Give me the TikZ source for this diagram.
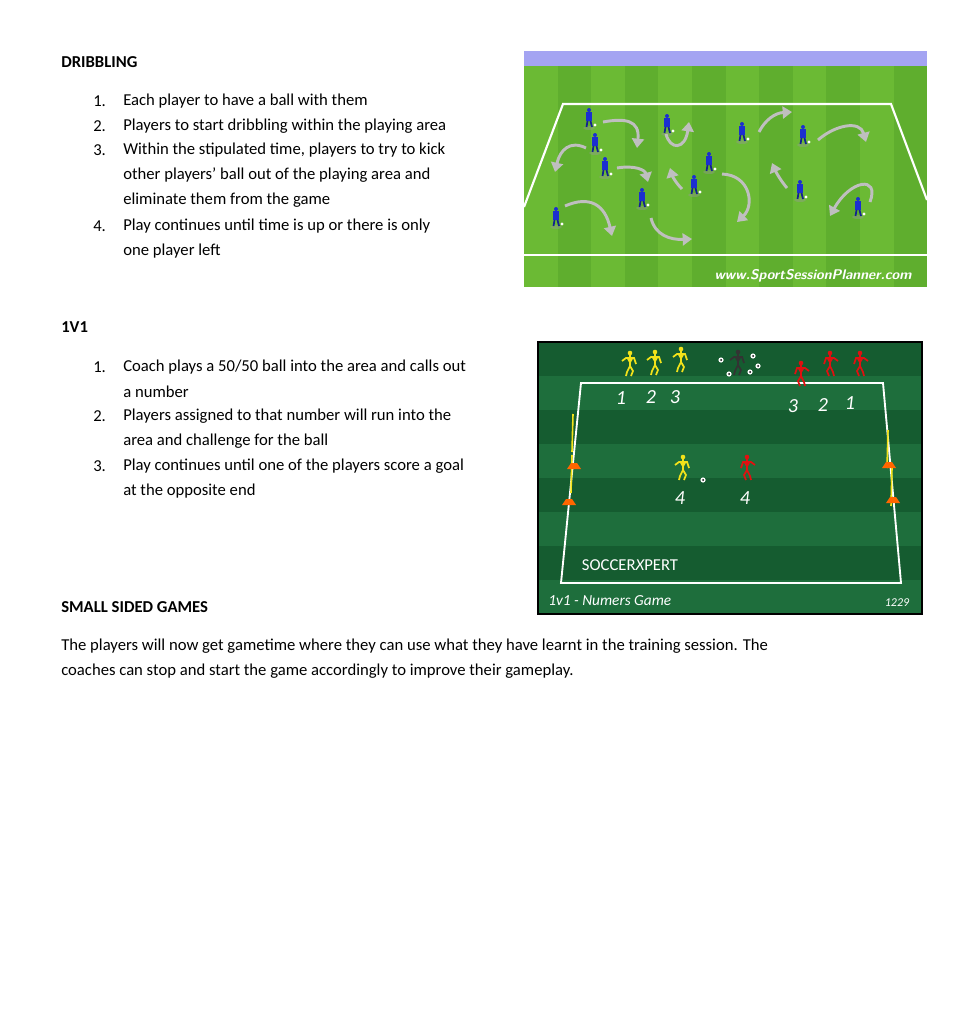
\documentclass[tikz,border=0pt]{standalone}
\usepackage{fontspec}
\setmainfont{Carlito}
\usetikzlibrary{arrows.meta}
\definecolor{gA}{HTML}{5FAE2E}\definecolor{gB}{HTML}{6BBA34}
\definecolor{dA}{HTML}{1E6E3C}\definecolor{dB}{HTML}{155C30}
\definecolor{lav}{HTML}{A4A4F2}\definecolor{blu}{HTML}{1B2FD0}
\definecolor{ylw}{HTML}{F2E21A}\definecolor{rd}{HTML}{E01010}
\tikzset{
 txt/.style={anchor=west,inner sep=0pt,font=\fontsize{12.5}{15}\selectfont},
 hd/.style={txt,font=\fontsize{12.5}{15}\selectfont\bfseries},
 arr/.style={draw=black!25,line width=2.2pt,-{Triangle[length=7pt,width=9pt]}},
 num/.style={inner sep=0pt,text=white,font=\fontsize{15}{15}\selectfont\itshape},
 fig/.pic={\fill[#1] (0,-9) circle (2.3);
  \draw[#1,line width=1.3pt] (0,-7)--(0,4) (-8,-1)--(-4,-4)--(4,-4)--(6,2) (0,4)--(-3,10)--(-4,14) (0,4)--(3,9)--(1,14);
  \fill[#1] (-4,-5)--(4,-5)--(0,2)--cycle;},
 bp/.pic={\fill[black!40,opacity=.4] (0,12) ellipse (6 and 2);\fill[blu] (0,-6) circle (2);
  \fill[blu] (-3,-4) rectangle (3,5);\draw[blu!70!black,line width=1.3pt] (-1.5,5)--(-2.5,11) (1.5,5)--(3,11);
  \fill[white] (6,9) circle (1.6);}
}
\begin{document}
\begin{tikzpicture}[x=0.75pt,y=-0.75pt]
\useasboundingbox[fill=white] (0,0) rectangle (954,1024);
% ---- text
\node[hd] (h1) at (61,62) {DRIBBLING};
\node[txt] (dn1) at (93,101) {1.};\node[txt] (d1) at (123,101) {Each player to have a ball with them};
\node[txt] (dn2) at (93,126) {2.};\node[txt] (d2) at (123,126) {Players to start dribbling within the playing area};
\node[txt] (dn3) at (93,150) {3.};\node[txt] (d3) at (123,150) {Within the stipulated time, players to try to kick};
\node[txt] (d4) at (123,175) {other players’ ball out of the playing area and};
\node[txt] (d5) at (123,200) {eliminate them from the game};
\node[txt] (dn4) at (93,226) {4.};\node[txt] (d6) at (123,226) {Play continues until time is up or there is only};
\node[txt] (d7) at (123,251) {one player left};
\node[hd] (h2) at (61,327) {1V1};
\node[txt] (en1) at (93,367) {1.};\node[txt] (e1) at (123,367) {Coach plays a 50/50 ball into the area and calls out};
\node[txt] (e2) at (123,392) {a number};
\node[txt] (en2) at (93,416) {2.};\node[txt] (e3) at (123,416) {Players assigned to that number will run into the};
\node[txt] (e4) at (123,441) {area and challenge for the ball};
\node[txt] (en3) at (93,466) {3.};\node[txt] (e5) at (123,466) {Play continues until one of the players score a goal};
\node[txt] (e6) at (123,491) {at the opposite end};
\node[hd] (h3) at (61,607) {SMALL SIDED GAMES};
\node[txt] (p1) at (61,646) {The players will now get gametime where they can use what they have learnt in the training session. The};
\node[txt] (p2) at (61,671) {coaches can stop and start the game accordingly to improve their gameplay.};
% ---- image 1
\fill[lav] (524,51) rectangle (927,66);
\foreach \i in {0,...,11}{\fill[\ifodd\i gA\else gB\fi] ({524+\i*33.6},66) rectangle ({524+(\i+1)*33.6},287);}
\draw[white,line width=1.6pt] (524,207)--(563,104)--(891,104)--(927,200);
\draw[white,line width=1.6pt] (524,255)--(927,255);
\node[inner sep=0pt,text=white,font=\fontsize{10.5}{12}\selectfont\sffamily\bfseries\itshape] (url) at (813,276) {www.SportSessionPlanner.com};
\foreach \x/\y in {589/116,595/141,605/165,667/122,742/130,803/133,709/160,694/183,642/196,800/188,858/205,556/215}
 \pic at (\x,\y) {bp};
\draw[arr] (603,122) .. controls (625,118) and (640,120) .. (637,148);
\draw[arr] (586,148) .. controls (570,140) and (560,150) .. (555,172);
\draw[arr] (617,168) .. controls (635,165) and (645,170) .. (648,182);
\draw[arr] (666,134) .. controls (670,150) and (685,150) .. (689,122);
\draw[arr] (759,132) .. controls (765,120) and (775,113) .. (792,112);
\draw[arr] (818,140) .. controls (835,125) and (860,120) .. (866,142);
\draw[arr] (565,206) .. controls (590,195) and (605,205) .. (612,236);
\draw[arr] (651,218) .. controls (655,235) and (670,240) .. (692,239);
\draw[arr] (682,189) .. controls (675,182) and (672,175) .. (670,168);
\draw[arr] (722,174) .. controls (750,175) and (755,205) .. (737,222);
\draw[arr] (787,188) .. controls (780,180) and (775,170) .. (772,163);
\draw[arr] (870,202) .. controls (880,175) and (850,180) .. (830,216);
% ---- image 2
\foreach \i in {0,...,7}{\fill[\ifodd\i dA\else dB\fi] (538,{342+\i*34}) rectangle (922,{342+(\i+1)*34});}
\draw[black,line width=1.5pt] (538,342) rectangle (922,614);
\draw[white,line width=1.4pt] (581,383)--(883,383)--(901,583)--(561,583)--cycle;
\pic at (630,362) {fig=ylw};\pic at (655,361) {fig=ylw};\pic at (681,358) {fig=ylw};
\pic at (738,361) {fig=black!80};\pic[xscale=-1] at (801,372) {fig=rd};
\pic[xscale=-1] at (830,362) {fig=rd};\pic[xscale=-1] at (860,362) {fig=rd};
\pic at (683,466) {fig=ylw};\pic[xscale=-1] at (747,466) {fig=rd};
\foreach \x/\y in {721/360,753/356,758/366,729/374,750/372,703/480}{\fill[white] (\x,\y) circle (2.6);\fill[black] (\x,\y) circle (1);}
\foreach \x/\y in {573/414,572/455,888/430,892/468}{\draw[ylw,line width=1.2pt] (\x,\y)--(\x-1,\y+38);}
\foreach \x/\y in {574/466,569/502,889/465,893/500}{\fill[orange!80!red] (\x-7,\y+3) -- (\x-3,\y-3)--(\x+3,\y-3)--(\x+7,\y+3)--cycle;}
\node[num] (n1) at (621,398) {1};\node[num] (n2) at (651,397) {2};\node[num] (n3) at (675,397) {3};
\node[num] (m3) at (793,406) {3};\node[num] (m2) at (823,405) {2};\node[num] (m1) at (850,403) {1};
\node[num] (y4) at (680,498) {4};\node[num] (r4) at (745,498) {4};
\node[inner sep=0pt,text=white,font=\fontsize{12.5}{12}\selectfont] (sx) at (630,565) {SOCCER{\itshape X}PERT};
\node[inner sep=0pt,anchor=west,text=white,font=\fontsize{11.5}{12}\selectfont\itshape] (cap) at (548,601) {1v1 - Numers Game};
\node[inner sep=0pt,text=white,font=\fontsize{9}{10}\selectfont\itshape] (id) at (897,603) {1229};
\end{tikzpicture}
\end{document}
